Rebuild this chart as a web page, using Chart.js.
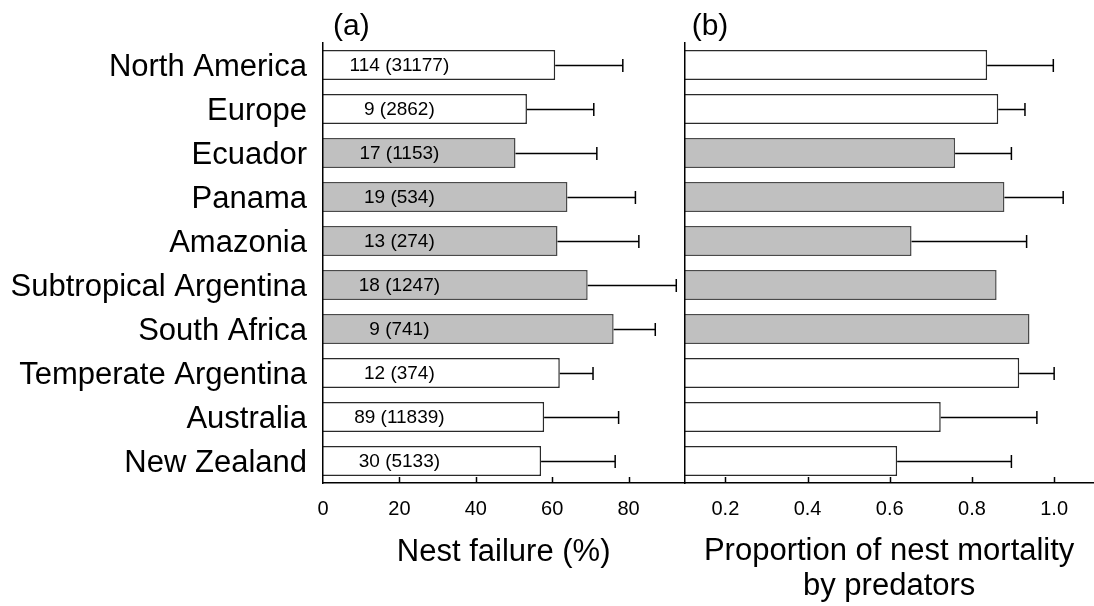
<!DOCTYPE html>
<html>
<head>
<meta charset="utf-8">
<script src="https://cdn.jsdelivr.net/npm/chart.js@4.4.1/dist/chart.umd.min.js"></script>
<style>
  html, body { margin: 0; padding: 0; background: #fff; }
  #wrap { position: relative; width: 1094px; height: 606px; overflow: hidden; background: #fff; }
  #wrapA { position: absolute; left: 0; top: 0; width: 700px; height: 606px; }
  #wrapB { position: absolute; left: 664px; top: 0; width: 430px; height: 606px; }
</style>
</head>
<body>
<div id="wrap">
  <div id="wrapA"><canvas id="chartA" width="700" height="606"></canvas></div>
  <div id="wrapB"><canvas id="chartB" width="430" height="606"></canvas></div>
</div>
<script>
// Regions, sample sizes and the two response variables
const regions = ['North America', 'Europe', 'Ecuador', 'Panama', 'Amazonia',
  'Subtropical Argentina', 'South Africa', 'Temperate Argentina', 'Australia', 'New Zealand'];
const studies = [114, 9, 17, 19, 13, 18, 9, 12, 89, 30];
const nests = [31177, 2862, 1153, 534, 274, 1247, 741, 374, 11839, 5133];
const tropical = [false, false, true, true, true, true, true, false, false, false];

const nestFailure = [60.8, 53.4, 50.4, 64.0, 61.4, 69.3, 76.1, 62.0, 57.9, 57.1];
const nestFailureSD = [17.7, 17.5, 21.3, 17.8, 21.3, 23.2, 10.9, 8.7, 19.5, 19.4];

const predation = [0.837, 0.864, 0.759, 0.879, 0.653, 0.860, 0.940, 0.915, 0.724, 0.618];
const predationSD = [0.161, 0.065, 0.137, 0.143, 0.280, null, null, 0.085, 0.234, 0.278];

const failureTicks = [0, 20, 40, 60, 80];
const predationTicks = [0.2, 0.4, 0.6, 0.8, 1.0];

const FONT = '"Liberation Sans", Arial, Helvetica, sans-serif';
const GRAY = '#c0c0c0';
const fills = tropical.map(t => t ? GRAY : '#ffffff');
const edges = tropical.map(t => t ? '#4a4a4a' : '#2a2a2a');

// One-sided error bars with an end cap
const errorBars = {
  id: 'errorBars',
  afterDatasetsDraw(chart, args, opts) {
    const ctx = chart.ctx;
    const xs = chart.scales.x;
    const meta = chart.getDatasetMeta(0);
    const vals = chart.data.datasets[0].data;
    ctx.save();
    ctx.strokeStyle = '#000';
    ctx.lineWidth = 1.5;
    meta.data.forEach((bar, i) => {
      const e = opts.values[i];
      if (e == null) return;
      const x0 = bar.x;
      const x1 = xs.getPixelForValue(vals[i] + e);
      const y = Math.round(bar.y) + 0.5;
      ctx.beginPath();
      ctx.moveTo(x0, y);
      ctx.lineTo(x1, y);
      ctx.moveTo(x1, y - 6.5);
      ctx.lineTo(x1, y + 6.5);
      ctx.stroke();
    });
    ctx.restore();
  }
};

// Inward tick marks on the value axis
const innerTicks = {
  id: 'innerTicks',
  afterDraw(chart, args, opts) {
    const ctx = chart.ctx;
    const xs = chart.scales.x;
    const yb = chart.chartArea.bottom;
    ctx.save();
    ctx.strokeStyle = '#000';
    ctx.lineWidth = 1.5;
    opts.values.forEach(v => {
      const x = Math.round(xs.getPixelForValue(v)) + 0.5;
      ctx.beginPath();
      ctx.moveTo(x, yb);
      ctx.lineTo(x, yb - 6);
      ctx.stroke();
    });
    ctx.restore();
  }
};

// Panel letter and in-bar sample sizes
const annotate = {
  id: 'annotate',
  afterDraw(chart, args, opts) {
    const ctx = chart.ctx;
    const area = chart.chartArea;
    ctx.save();
    ctx.fillStyle = '#000';
    ctx.font = '30px ' + FONT;
    ctx.textAlign = 'left';
    ctx.textBaseline = 'alphabetic';
    ctx.fillText(opts.tag, area.left + opts.tagOffset, 35);
    if (opts.counts) {
      const xs = chart.scales.x;
      const meta = chart.getDatasetMeta(0);
      ctx.font = '19px ' + FONT;
      ctx.textAlign = 'center';
      ctx.textBaseline = 'middle';
      const cx = xs.getPixelForValue(20);
      meta.data.forEach((bar, i) => {
        ctx.fillText(opts.counts[i], cx, bar.y + 1);
      });
    }
    ctx.restore();
  }
};

const common = {
  indexAxis: 'y',
  responsive: false,
  animation: false,
  devicePixelRatio: 1,
  events: []
};

function barDataset(values) {
  return {
    data: values,
    backgroundColor: fills,
    borderColor: edges,
    borderWidth: 1.5,
    borderSkipped: 'start',
    barPercentage: 0.68,
    categoryPercentage: 1.0
  };
}

const axisBorder = { display: true, color: '#000', width: 1.5, z: 1 };

new Chart(document.getElementById('chartA'), {
  type: 'bar',
  data: { labels: regions, datasets: [barDataset(nestFailure)] },
  plugins: [errorBars, innerTicks, annotate],
  options: Object.assign({}, common, {
    layout: { padding: { top: 43, right: 15.7, left: 0, bottom: 0 } },
    plugins: {
      legend: { display: false },
      tooltip: { enabled: false },
      errorBars: { values: nestFailureSD },
      innerTicks: { values: failureTicks.slice(1) },
      annotate: { tag: '(a)', tagOffset: 10, counts: studies.map((s, i) => s + ' (' + nests[i] + ')') }
    },
    scales: {
      x: {
        min: 0, max: 94.6,
        afterBuildTicks: s => { s.ticks = failureTicks.map(v => ({ value: v })); },
        grid: { display: false, drawTicks: false },
        border: axisBorder,
        ticks: { padding: 14, color: '#000', font: { family: FONT, size: 20 } },
        title: {
          display: true, text: 'Nest failure (%)', color: '#000',
          font: { family: FONT, size: 31, lineHeight: 1.13 },
          padding: { top: 0, bottom: 36.5 }
        },
        afterFit: s => { s.height = 123; }
      },
      y: {
        grid: { display: false, drawTicks: false },
        border: axisBorder,
        ticks: { padding: 16, labelOffset: 2.5, color: '#000', font: { family: FONT, size: 31 } },
        afterFit: s => { s.width = 323; }
      }
    }
  })
});

new Chart(document.getElementById('chartB'), {
  type: 'bar',
  data: { labels: regions, datasets: [barDataset(predation)] },
  plugins: [errorBars, innerTicks, annotate],
  options: Object.assign({}, common, {
    layout: { padding: { top: 43, right: 0, left: 0, bottom: 0 } },
    plugins: {
      legend: { display: false },
      tooltip: { enabled: false },
      errorBars: { values: predationSD },
      innerTicks: { values: predationTicks },
      annotate: { tag: '(b)', tagOffset: 7.4, counts: null }
    },
    scales: {
      x: {
        min: 0.1, max: 1.097,
        afterBuildTicks: s => { s.ticks = predationTicks.map(v => ({ value: v })); },
        grid: { display: false, drawTicks: false },
        border: axisBorder,
        ticks: {
          padding: 14, color: '#000', font: { family: FONT, size: 20 },
          callback: v => Number(v).toFixed(1)
        },
        title: {
          display: true, text: ['Proportion of nest mortality', 'by predators'], color: '#000',
          font: { family: FONT, size: 31, lineHeight: 1.13 },
          padding: { top: 0, bottom: 1.8 }
        },
        afterFit: s => { s.height = 123; }
      },
      y: {
        grid: { display: false, drawTicks: false },
        border: axisBorder,
        ticks: { display: false },
        afterFit: s => { s.width = 20.3; }
      }
    }
  })
});
</script>
</body>
</html>
